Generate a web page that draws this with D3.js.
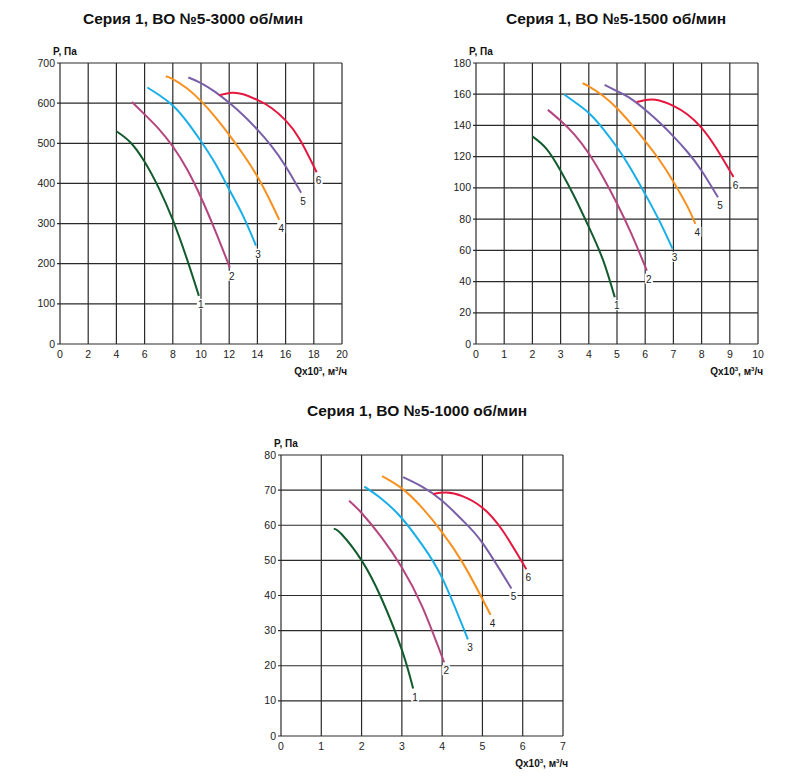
<!DOCTYPE html>
<html>
<head>
<meta charset="utf-8">
<script src="https://cdn.jsdelivr.net/npm/d3@7"></script>
<style>
  body { margin: 0; background: #fff; }
  svg { font-family: "Liberation Sans", Arial, sans-serif; }
</style>
</head>
<body>
<div id="chart-area"></div>
<script>
// Номера кривых и их цвета
var curveNames = ["1", "2", "3", "4", "5", "6"];
var curveColors = ["#125b2c", "#b4457f", "#18aee8", "#f7901e", "#7a5ea8", "#e5173f"];

// 3000 об/мин
var xTicks3000 = [0, 2, 4, 6, 8, 10, 12, 14, 16, 18, 20];
var yTicks3000 = [0, 100, 200, 300, 400, 500, 600, 700];
var curves3000 = [
    [[4, 530], [5, 502], [6, 454], [7, 389], [8, 309], [9, 212], [9.85, 120]],
    [[5.1, 603], [6, 572], [7, 536], [8, 492], [9, 436], [10, 365], [11, 283], [12.05, 190]],
    [[6.2, 639], [7, 621], [8, 594], [9, 554], [10, 505], [11, 450], [12, 385], [13, 318], [13.9, 245]],
    [[7.5, 667], [8, 660], [9, 637], [10, 605], [11, 566], [12, 521], [13, 472], [14, 417], [15, 350], [15.55, 309]],
    [[9.1, 664], [10, 650], [11, 628], [12, 601], [13, 570], [14, 534], [15, 493], [16, 443], [17.1, 377]],
    [[11.3, 620], [12.2, 626], [13, 622], [14, 608], [15, 588], [16, 557], [17, 510], [18.2, 428]]
];

// 1500 об/мин
var xTicks1500 = [0, 1, 2, 3, 4, 5, 6, 7, 8, 9, 10];
var yTicks1500 = [0, 20, 40, 60, 80, 100, 120, 140, 160, 180];
var curves1500 = [
    [[2, 133], [2.5, 125], [3, 111], [3.5, 94], [4, 75], [4.5, 54], [4.92, 30]],
    [[2.55, 150], [3, 143], [3.5, 134], [4, 122], [4.5, 107], [5, 90], [5.5, 71], [6.06, 47]],
    [[3.12, 160], [3.5, 155], [4, 148], [4.5, 138], [5, 126], [5.5, 112], [6, 96], [6.5, 79], [6.97, 61]],
    [[3.78, 167], [4, 165], [4.5, 159], [5, 151], [5.5, 141], [6, 130], [6.5, 118], [7, 104], [7.5, 88], [7.78, 77]],
    [[4.56, 166], [5, 162], [5.5, 157], [6, 150], [6.5, 142], [7, 133], [7.5, 123], [8, 111], [8.58, 94]],
    [[5.7, 155], [6.1, 156.5], [6.5, 156], [7, 152.5], [7.5, 147], [8, 138.5], [8.5, 126], [9.13, 107]]
];

// 1000 об/мин
var xTicks1000 = [0, 1, 2, 3, 4, 5, 6, 7];
var yTicks1000 = [0, 10, 20, 30, 40, 50, 60, 70, 80];
var curves1000 = [
    [[1.31, 59], [1.5, 57.5], [2, 50], [2.5, 39], [3, 24.5], [3.28, 13.5]],
    [[1.69, 67], [2, 63.5], [2.5, 56.5], [3, 48], [3.5, 37], [4.05, 21]],
    [[2.07, 71], [2.5, 67.5], [3, 62], [3.5, 54.5], [4, 45], [4.64, 27.5]],
    [[2.51, 74], [3, 70.5], [3.5, 65], [4, 58], [4.5, 49.5], [5, 39], [5.2, 34.5]],
    [[3.03, 73.7], [3.5, 71], [4, 67], [4.5, 61.5], [5, 55], [5.72, 42]],
    [[3.78, 68.9], [4.1, 69.3], [4.5, 68.3], [5, 65], [5.5, 58.5], [6.09, 47.5]]
];

var svg = d3.select("#chart-area").append("svg")
    .attr("width", 800)
    .attr("height", 784);

function drawChart(title, titleX, titleY, left, top, xTicks, yTicks, curves) {
    var w = 282, h = 281;
    var x = d3.scaleLinear().domain([xTicks[0], xTicks[xTicks.length - 1]]).range([left, left + w]);
    var y = d3.scaleLinear().domain([yTicks[0], yTicks[yTicks.length - 1]]).range([top + h, top]);

    // Сетка
    svg.append("g").selectAll("line")
        .data(xTicks).enter().append("line")
        .attr("x1", d => x(d)).attr("x2", d => x(d))
        .attr("y1", top).attr("y2", top + h)
        .attr("stroke", "#2a2a2a").attr("stroke-width", 1.2);
    svg.append("g").selectAll("line")
        .data(yTicks).enter().append("line")
        .attr("x1", left - 3).attr("x2", left + w)
        .attr("y1", d => y(d)).attr("y2", d => y(d))
        .attr("stroke", "#2a2a2a").attr("stroke-width", 1.2);

    // Подписи осей
    svg.append("g").selectAll("text")
        .data(yTicks).enter().append("text")
        .attr("x", left - 5).attr("y", d => y(d) + 3.5)
        .attr("text-anchor", "end").attr("font-size", "10.5px").attr("fill", "#222")
        .text(d => d);
    svg.append("g").selectAll("text")
        .data(xTicks).enter().append("text")
        .attr("x", d => x(d)).attr("y", top + h + 14)
        .attr("text-anchor", "middle").attr("font-size", "10.5px").attr("fill", "#222")
        .text(d => d);

    svg.append("text")
        .attr("x", left - 7).attr("y", top - 8)
        .attr("font-size", "10px").attr("font-weight", "bold").attr("fill", "#111")
        .text("P, Па");

    var ql = svg.append("text")
        .attr("x", left + w + 5).attr("y", top + h + 31)
        .attr("text-anchor", "end")
        .attr("font-size", "10px").attr("font-weight", "bold").attr("fill", "#111");
    ql.append("tspan").text("Qx10");
    ql.append("tspan").attr("dy", -4).attr("font-size", "6px").text("3");
    ql.append("tspan").attr("dy", 4).text(", м");
    ql.append("tspan").attr("dy", -4).attr("font-size", "6px").text("3");
    ql.append("tspan").attr("dy", 4).text("/ч");

    // Кривые
    var line = d3.line()
        .x(d => x(d[0]))
        .y(d => y(d[1]))
        .curve(d3.curveNatural);

    svg.append("g").selectAll("path")
        .data(curves).enter().append("path")
        .attr("d", d => line(d))
        .attr("fill", "none")
        .attr("stroke", (d, i) => curveColors[i])
        .attr("stroke-width", 2);

    // Номера кривых
    var lbl = svg.append("g").selectAll("g")
        .data(curves).enter().append("g")
        .attr("transform", d => {
            var e = d[d.length - 1];
            return "translate(" + (x(e[0]) + 2) + "," + (y(e[1]) + 8) + ")";
        });
    lbl.append("rect")
        .attr("x", -4).attr("y", -5).attr("width", 8).attr("height", 10)
        .attr("fill", "#fff");
    lbl.append("text")
        .attr("y", 4).attr("text-anchor", "middle")
        .attr("font-size", "10px").attr("fill", "#222")
        .text((d, i) => curveNames[i]);

    // Заголовок
    svg.append("text")
        .attr("x", titleX).attr("y", titleY)
        .attr("text-anchor", "middle")
        .attr("font-size", "15.5px").attr("font-weight", "bold").attr("fill", "#111")
        .text(title);
}

drawChart("Серия 1, ВО №5-3000 об/мин", 193, 24, 60, 63, xTicks3000, yTicks3000, curves3000);
drawChart("Серия 1, ВО №5-1500 об/мин", 616, 24, 476, 63, xTicks1500, yTicks1500, curves1500);
drawChart("Серия 1, ВО №5-1000 об/мин", 417, 416, 281, 455, xTicks1000, yTicks1000, curves1000);
</script>
</body>
</html>
